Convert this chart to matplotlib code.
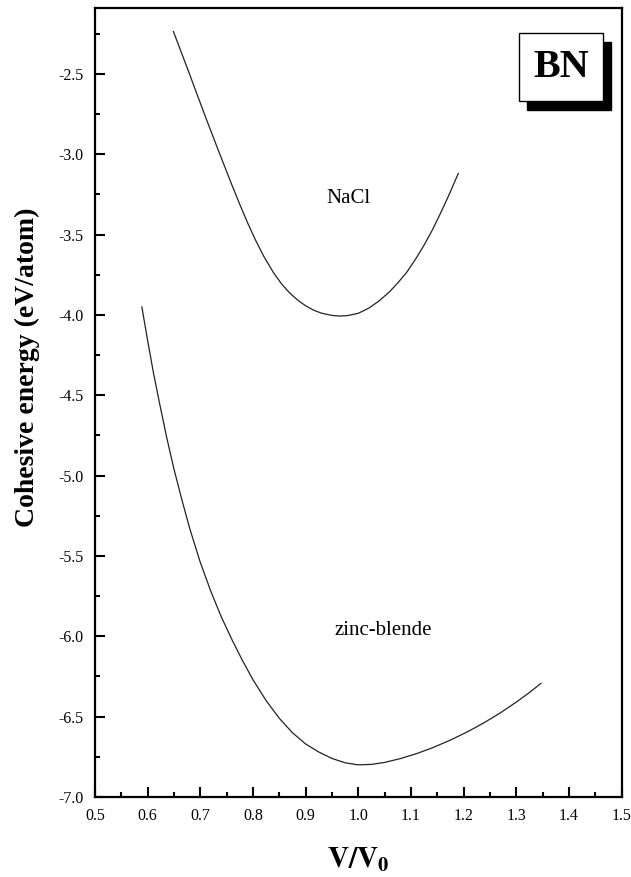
import matplotlib
matplotlib.use("Agg")
import matplotlib.pyplot as plt
from matplotlib.ticker import MultipleLocator
from matplotlib.patches import Rectangle

# Data
nacl_v = [0.649, 0.665, 0.680, 0.695, 0.712, 0.730, 0.745, 0.760, 0.776, 0.790,
          0.805, 0.820, 0.839, 0.855, 0.870, 0.885, 0.900, 0.915, 0.930, 0.950,
          0.965, 0.980, 1.000, 1.020, 1.040, 1.060, 1.075, 1.092, 1.110, 1.125,
          1.140, 1.155, 1.170, 1.190]
nacl_e = [-2.237, -2.375, -2.505, -2.638, -2.786, -2.940, -3.066, -3.191, -3.320, -3.428,
          -3.535, -3.632, -3.737, -3.810, -3.864, -3.908, -3.943, -3.970, -3.989, -4.003,
          -4.007, -4.004, -3.990, -3.958, -3.912, -3.854, -3.801, -3.735, -3.647, -3.566,
          -3.476, -3.376, -3.270, -3.120]

zb_v = [0.589, 0.600, 0.611, 0.622, 0.636, 0.650, 0.665, 0.680, 0.700, 0.720,
        0.740, 0.760, 0.780, 0.800, 0.825, 0.850, 0.875, 0.900, 0.925, 0.950,
        0.975, 1.000, 1.025, 1.050, 1.080, 1.110, 1.140, 1.175, 1.210, 1.240,
        1.270, 1.300, 1.325, 1.347]
zb_e = [-3.950, -4.160, -4.360, -4.540, -4.760, -4.960, -5.150, -5.330, -5.540, -5.720,
        -5.880, -6.020, -6.150, -6.270, -6.400, -6.510, -6.600, -6.670, -6.720, -6.760,
        -6.787, -6.800, -6.797, -6.785, -6.761, -6.731, -6.695, -6.646, -6.590, -6.536,
        -6.476, -6.410, -6.350, -6.293]

x_ticks = [0.5, 0.6, 0.7, 0.8, 0.9, 1.0, 1.1, 1.2, 1.3, 1.4, 1.5]
y_ticks = [-2.5, -3.0, -3.5, -4.0, -4.5, -5.0, -5.5, -6.0, -6.5, -7.0]

plt.rcParams['font.family'] = ['Liberation Serif', 'DejaVu Serif']
plt.rcParams['mathtext.fontset'] = 'stix'

fig = plt.figure(figsize=(6.31, 8.77), dpi=100)
ax = fig.add_axes([95/631, 1-797/877, (621.5-95)/631, (797-8)/877])

ax.plot(nacl_v, nacl_e, color='#222222', lw=0.9)
ax.plot(zb_v, zb_e, color='#222222', lw=0.9)

ax.set_xlim(0.5, 1.5)
ax.set_ylim(-7.0, -2.09)
ax.set_xticks(x_ticks)
ax.set_yticks(y_ticks)
ax.set_xticklabels([f"{t:.1f}" for t in x_ticks])
ax.set_yticklabels([f"{t:.1f}" for t in y_ticks])
ax.xaxis.set_minor_locator(MultipleLocator(0.05))
ax.yaxis.set_minor_locator(MultipleLocator(0.25))
ax.tick_params(which='both', direction='in', top=False, right=False, width=1.5,
               labelsize=11.5, pad=8)
ax.tick_params(which='major', length=7)
ax.tick_params(which='minor', length=3.5)
for s in ax.spines.values():
    s.set_linewidth(1.6)

ax.text(0.981, -3.274, "NaCl", fontsize=15, ha='center', va='center')
ax.text(1.048, -5.962, "zinc-blende", fontsize=15, ha='center', va='center')

# BN box with shadow
bx0, bx1 = 519.3/631, 603.3/631
by0, by1 = 1-101/877, 1-33.3/877
dx, dy = 8/631, 9/877
fig.patches.append(Rectangle((bx0+dx, by0-dy), bx1-bx0, by1-by0, transform=fig.transFigure,
                             facecolor='black', edgecolor='black', zorder=5))
fig.patches.append(Rectangle((bx0, by0), bx1-bx0, by1-by0, transform=fig.transFigure,
                             facecolor='white', edgecolor='black', lw=1.0, zorder=6))
fig.text((bx0+bx1)/2, (by0+by1)/2, "BN", fontsize=29, fontweight='bold',
         ha='center', va='center', zorder=7)

fig.text(27/631, 1-367/877, "Cohesive energy (eV/atom)", rotation=90, fontsize=20,
         fontweight='bold', ha='center', va='center')
fig.text(358/631, 1-860/877, r"$\mathbf{V/V_0}$", fontsize=21, ha='center', va='center')

fig.savefig("out.png", dpi=100)
